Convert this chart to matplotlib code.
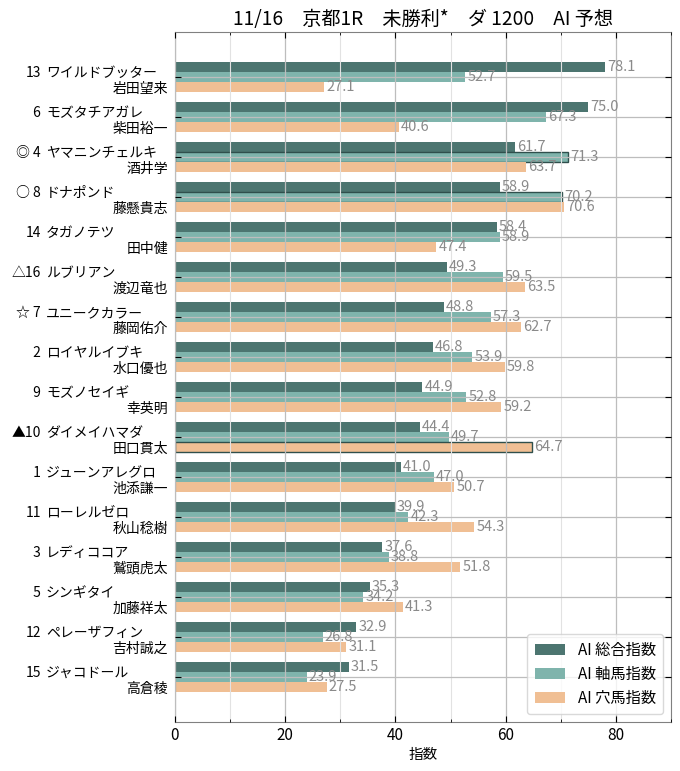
import matplotlib
matplotlib.use("Agg")
import matplotlib.pyplot as plt
import numpy as np
from matplotlib.ticker import MultipleLocator

plt.rcParams['font.family'] = ['Noto Sans CJK JP', 'DejaVu Sans']

title = "11/16\u3000京都1R\u3000未勝利*\u3000ダ 1200\u3000AI 予想"
marks = ["", "", "◎", "○", "", "△", "☆", "", "", "▲", "", "", "", "", "", ""]
numbers = [13, 6, 4, 8, 14, 16, 7, 2, 9, 10, 1, 11, 3, 5, 12, 15]
horses = ["ワイルドブッター", "モズタチアガレ", "ヤマニンチェルキ", "ドナポンド", "タガノテツ",
          "ルブリアン", "ユニークカラー", "ロイヤルイブキ", "モズノセイギ", "ダイメイハマダ",
          "ジューンアレグロ", "ローレルゼロ", "レディココア", "シンギタイ", "ペレーザフィン", "ジャコドール"]
jockeys = ["岩田望来", "柴田裕一", "酒井学", "藤懸貴志", "田中健", "渡辺竜也", "藤岡佑介", "水口優也",
           "幸英明", "田口貫太", "池添謙一", "秋山稔樹", "鷲頭虎太", "加藤祥太", "吉村誠之", "高倉稜"]
sogo = [78.1, 75.0, 61.7, 58.9, 58.4, 49.3, 48.8, 46.8, 44.9, 44.4, 41.0, 39.9, 37.6, 35.3, 32.9, 31.5]
jiku = [52.7, 67.3, 71.3, 70.2, 58.9, 59.5, 57.3, 53.9, 52.8, 49.7, 47.0, 42.3, 38.8, 34.2, 26.8, 23.9]
ana = [27.1, 40.6, 63.7, 70.6, 47.4, 63.5, 62.7, 59.8, 59.2, 64.7, 50.7, 54.3, 51.8, 41.3, 31.1, 27.5]
series_names = ["AI 総合指数", "AI 軸馬指数", "AI 穴馬指数"]
# (row, series) pairs outlined in the chart
highlight = [(2, 1), (3, 1), (9, 2)]

colors = ["#4c7570", "#7fb4ac", "#f0bf94"]

W, H = 680, 771
fig = plt.figure(figsize=(W / 100, H / 100), dpi=100)
L, R, T, B = 175, 671, 32, 722
ax = fig.add_axes([L / W, 1 - B / H, (R - L) / W, (B - T) / H])

n = len(numbers)
y = np.arange(n)
h = 0.25
data = [sogo, jiku, ana]
for k, (vals, c, name) in enumerate(zip(data, colors, series_names)):
    pos = y + (k - 1) * h
    bars = ax.barh(pos, vals, height=h, color=c, label=name, zorder=1)
    for i, (b, v) in enumerate(zip(bars, vals)):
        if (i, k) in highlight:
            b.set_edgecolor("#2f4f4c")
            b.set_linewidth(1.0)
        ax.text(v + 0.4, pos[i], f"{v:.1f}", va="center", ha="left",
                color="#8a8a8a", fontsize=10.5, zorder=4)

ax.set_xlim(0, 90)
ax.set_ylim(n - 1 + 1.125, -1.125)
ax.xaxis.set_major_locator(MultipleLocator(20))
ax.xaxis.set_minor_locator(MultipleLocator(10))
ax.set_yticks(y)
ax.set_yticklabels([])
ax.grid(True, which="major", color="#bdbdbd", linewidth=0.9, zorder=3)
ax.grid(True, which="minor", axis="x", color="#e2e2e2", linewidth=0.8, zorder=3)
ax.set_axisbelow(False)
ax.tick_params(which="both", direction="in", top=True, right=True, labelsize=11, colors="black")
ax.tick_params(which="major", length=4)
ax.tick_params(which="minor", length=2.5)
for s in ax.spines.values():
    s.set_color("#808080")
ax.set_xlabel("指数", fontsize=10.5, labelpad=3)
ax.set_title(title, fontsize=13.8, pad=5)

# y labels (two lines)
def fx(px):
    return (px - L) / (R - L)

tr = ax.get_yaxis_transform()
for i in range(n):
    ax.text(fx(41), y[i] - 0.1, f"{marks[i]}{numbers[i]:>2}", ha="right", va="center",
            fontsize=10, transform=tr, clip_on=False)
    ax.text(fx(46), y[i] - 0.1, horses[i], ha="left", va="center",
            fontsize=10, transform=tr, clip_on=False)
    ax.text(fx(168), y[i] + 0.3, jockeys[i], ha="right", va="center",
            fontsize=10, transform=tr, clip_on=False)

leg = ax.legend(loc="lower right", fontsize=11, frameon=True, handlelength=2.0,
                handleheight=0.7, handletextpad=0.8, borderpad=0.5, labelspacing=0.45,
                fancybox=True)
leg.get_frame().set_edgecolor("#d0d0d0")
leg.set_zorder(5)

fig.savefig("out.png", dpi=100)
